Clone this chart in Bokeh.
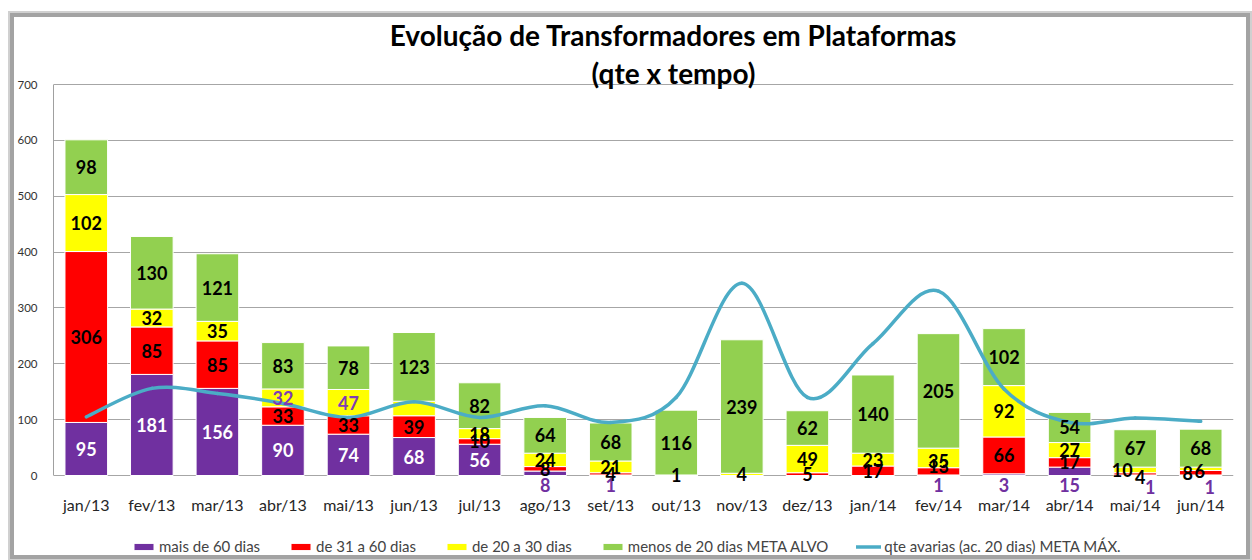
from bokeh.plotting import figure
from bokeh.models import Range1d, FixedTicker, ColumnDataSource, Legend, LegendItem, Label
from bokeh.embed import file_html
from bokeh.resources import INLINE
from bokeh.core.properties import value

# ---------------- data ----------------
months = ["jan/13", "fev/13", "mar/13", "abr/13", "mai/13", "jun/13", "jul/13", "ago/13", "set/13",
          "out/13", "nov/13", "dez/13", "jan/14", "fev/14", "mar/14", "abr/14", "mai/14", "jun/14"]
mais60 = [95, 181, 156, 90, 74, 68, 56, 8, 1, 0, 0, 0, 0, 1, 3, 15, 1, 1]
d31a60 = [306, 85, 85, 33, 33, 39, 10, 8, 4, 0, 0, 5, 17, 13, 66, 17, 4, 8]
d20a30 = [102, 32, 35, 32, 47, 26, 18, 24, 21, 1, 4, 49, 23, 35, 92, 27, 10, 6]
menos20 = [98, 130, 121, 83, 78, 123, 82, 64, 68, 116, 239, 62, 140, 205, 102, 54, 67, 68]
avarias = [105, 156, 147, 129, 104, 132, 104, 125, 95, 140, 344, 140, 236, 330, 155, 95, 103, 97]
y_ticks = [0, 100, 200, 300, 400, 500, 600, 700]
series_names = ["mais de 60 dias", "de 31 a 60 dias", "de 20 a 30 dias", "menos de 20 dias META ALVO"]
line_name = "qte avarias (ac. 20 dias) META MÁX."
title_1 = "Evolução de Transformadores em Plataformas"
title_2 = "(qte x tempo)"

# ---------------- styles ----------------
FONT = "Lato"
PURPLE, RED, YELLOW, GREEN = "#7030A0", "#FF0000", "#FFFF00", "#92D050"
LINE_COLOR = "#4BACC6"
n = len(months)
xs = list(range(n))

# plot area covers the whole inner canvas (title on top, legend at the bottom)
p = figure(frame_width=1180, frame_height=538, output_backend="svg", toolbar_location=None,
           x_range=Range1d(-0.5, n - 0.5), y_range=Range1d(-143.2, 820),
           min_border_left=38, min_border_right=13, min_border_top=0, min_border_bottom=0,
           background_fill_color="white", border_fill_color="white")
p.margin = (13, 0, 0, 10)
p.styles = {"border": "4px solid #a3a3a3", "outline": "2px solid #d0d0d0"}
p.outline_line_color = None

src = ColumnDataSource(dict(x=xs, a=mais60, b=d31a60, c=d20a30, d=menos20))
bars = p.vbar_stack(["a", "b", "c", "d"], x="x", width=0.65, source=src,
                    color=[PURPLE, RED, YELLOW, GREEN], line_color="white", line_width=1)

# smoothed line (Bezier segments through the data points)
x0, y0, x1, y1, cx0, cy0, cx1, cy1 = [], [], [], [], [], [], [], []
for i in range(n - 1):
    i0 = max(i - 1, 0)
    i3 = min(i + 2, n - 1)
    x0.append(xs[i]); y0.append(avarias[i])
    x1.append(xs[i + 1]); y1.append(avarias[i + 1])
    cx0.append(xs[i] + (xs[i + 1] - xs[i0]) / 6.0)
    cy0.append(avarias[i] + (avarias[i + 1] - avarias[i0]) / 6.0)
    cx1.append(xs[i + 1] - (xs[i3] - xs[i]) / 6.0)
    cy1.append(avarias[i + 1] - (avarias[i3] - avarias[i]) / 6.0)
line_r = p.bezier(x0=x0, y0=y0, x1=x1, y1=y1, cx0=cx0, cy0=cy0, cx1=cx1, cy1=cy1,
                  line_color=LINE_COLOR, line_width=3.5, line_cap="round")

# data labels
lab = dict(x=[], y=[], text=[], color=[], dx=[], dy=[])
bottom = [0] * n
shift = {(16, 1): (5, 3), (16, 2): (-13, 0), (16, 0): (15, 2),
         (17, 1): (-13, 0), (17, 2): (-1, 2), (17, 0): (9, 2),
         (13, 1): (0, -5), (13, 2): (0, 3)}
for k, vals in enumerate([mais60, d31a60, d20a30, menos20]):
    for i, v in enumerate(vals):
        b = bottom[i]
        bottom[i] += v
        if v == 0 or (k == 2 and i == 5):
            continue
        dx, dy = shift.get((i, k), (0, 0))
        if k == 0:
            if v >= 40:
                y, col = b + v / 2.0, "white"
            else:
                y, col, dy = 0, PURPLE, 9 + dy
        else:
            y = b + v / 2.0
            col = "#7E3CB4" if (k == 2 and i in (3, 4)) else "black"
        lab["x"].append(xs[i]); lab["y"].append(y); lab["text"].append(str(v))
        lab["color"].append(col); lab["dx"].append(dx); lab["dy"].append(dy)
p.text(x="x", y="y", text="text", source=ColumnDataSource(lab), text_color="color",
       x_offset="dx", y_offset="dy", text_font=value(FONT), text_font_style="bold",
       text_font_size="18px", text_align="center", text_baseline="middle")

# axes & grid
p.xaxis.ticker = FixedTicker(ticks=xs)
p.xaxis.major_label_overrides = {i: m for i, m in enumerate(months)}
p.xaxis.major_label_text_font = FONT
p.xaxis.major_label_text_font_size = "16px"
p.xaxis.major_label_text_color = "#262626"
p.xaxis.major_label_standoff = -67
p.xaxis.axis_line_color = None
p.yaxis.ticker = FixedTicker(ticks=y_ticks)
p.yaxis.bounds = (0, 700)
p.yaxis.major_label_text_font = FONT
p.yaxis.major_label_text_font_size = "11.5px"
p.yaxis.major_label_text_color = "#333333"
p.yaxis.major_label_standoff = 10
p.yaxis.axis_line_color = "#a0a0a0"
for ax in (p.xaxis, p.yaxis):
    ax.major_tick_line_color = None
    ax.minor_tick_line_color = None
p.xgrid.visible = False
p.ygrid.ticker = FixedTicker(ticks=y_ticks)
p.ygrid.grid_line_color = "#a6a6a6"

# legend at the bottom of the plot area
items = [LegendItem(label=series_names[j], renderers=[bars[j]]) for j in range(4)]
items.append(LegendItem(label=line_name, renderers=[line_r]))
legend = Legend(items=items, orientation="horizontal", location=(78, 0),
                glyph_width=25, glyph_height=9, label_standoff=3, spacing=28,
                padding=0, margin=0, background_fill_alpha=0, border_line_alpha=0,
                label_text_font=FONT, label_text_font_size="15px", label_height=14)
p.add_layout(legend, "center")

# titles (screen offsets relative to the plot area)
for txt, yy in ((title_1, 521), (title_2, 483)):
    p.add_layout(Label(x=620, y=yy, x_units="screen", y_units="screen", text=txt,
                       text_font=FONT, text_font_size="28px", text_font_style="bold",
                       text_color="black", text_align="center", text_baseline="middle"))

open("out.html", "w").write(file_html(p, INLINE))
